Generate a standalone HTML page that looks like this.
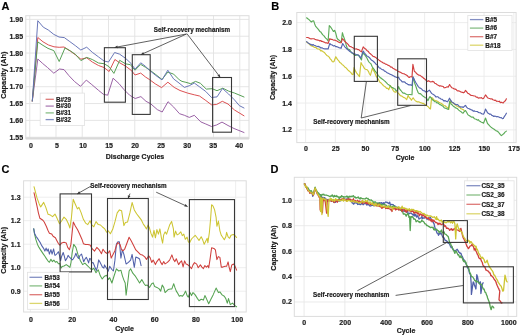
<!DOCTYPE html>
<html><head><meta charset="utf-8"><style>
html,body{margin:0;padding:0;background:#fff;}
body{width:520px;height:335px;overflow:hidden;font-family:"Liberation Sans",sans-serif;}
svg{display:block;will-change:transform;filter:blur(0.3px);}
</style></head><body>
<svg width="520" height="335" viewBox="0 0 520 335"><line x1="25.8" y1="19.40" x2="249" y2="19.40" stroke="#e2e2e2" stroke-width="0.9"/>
<line x1="25.8" y1="36.23" x2="249" y2="36.23" stroke="#e2e2e2" stroke-width="0.9"/>
<line x1="25.8" y1="53.06" x2="249" y2="53.06" stroke="#e2e2e2" stroke-width="0.9"/>
<line x1="25.8" y1="69.89" x2="249" y2="69.89" stroke="#e2e2e2" stroke-width="0.9"/>
<line x1="25.8" y1="86.72" x2="249" y2="86.72" stroke="#e2e2e2" stroke-width="0.9"/>
<line x1="25.8" y1="103.55" x2="249" y2="103.55" stroke="#e2e2e2" stroke-width="0.9"/>
<line x1="25.8" y1="120.38" x2="249" y2="120.38" stroke="#e2e2e2" stroke-width="0.9"/>
<line x1="25.8" y1="137.21" x2="249" y2="137.21" stroke="#e2e2e2" stroke-width="0.9"/>
<line x1="29.75" y1="15.7" x2="29.75" y2="138.6" stroke="#e2e2e2" stroke-width="0.9"/>
<line x1="56.00" y1="15.7" x2="56.00" y2="138.6" stroke="#e2e2e2" stroke-width="0.9"/>
<line x1="82.25" y1="15.7" x2="82.25" y2="138.6" stroke="#e2e2e2" stroke-width="0.9"/>
<line x1="108.50" y1="15.7" x2="108.50" y2="138.6" stroke="#e2e2e2" stroke-width="0.9"/>
<line x1="134.75" y1="15.7" x2="134.75" y2="138.6" stroke="#e2e2e2" stroke-width="0.9"/>
<line x1="161.00" y1="15.7" x2="161.00" y2="138.6" stroke="#e2e2e2" stroke-width="0.9"/>
<line x1="187.25" y1="15.7" x2="187.25" y2="138.6" stroke="#e2e2e2" stroke-width="0.9"/>
<line x1="213.50" y1="15.7" x2="213.50" y2="138.6" stroke="#e2e2e2" stroke-width="0.9"/>
<line x1="239.75" y1="15.7" x2="239.75" y2="138.6" stroke="#e2e2e2" stroke-width="0.9"/>
<rect x="25.8" y="15.7" width="223.20" height="122.90" fill="none" stroke="#dcdcdc" stroke-width="1"/>
<line x1="296.8" y1="22.60" x2="516.1" y2="22.60" stroke="#ebebeb" stroke-width="0.9"/>
<line x1="296.8" y1="49.42" x2="516.1" y2="49.42" stroke="#ebebeb" stroke-width="0.9"/>
<line x1="296.8" y1="76.24" x2="516.1" y2="76.24" stroke="#ebebeb" stroke-width="0.9"/>
<line x1="296.8" y1="103.06" x2="516.1" y2="103.06" stroke="#ebebeb" stroke-width="0.9"/>
<line x1="296.8" y1="129.88" x2="516.1" y2="129.88" stroke="#ebebeb" stroke-width="0.9"/>
<line x1="305.60" y1="12.5" x2="305.60" y2="142.6" stroke="#ebebeb" stroke-width="0.9"/>
<line x1="335.35" y1="12.5" x2="335.35" y2="142.6" stroke="#ebebeb" stroke-width="0.9"/>
<line x1="365.10" y1="12.5" x2="365.10" y2="142.6" stroke="#ebebeb" stroke-width="0.9"/>
<line x1="394.85" y1="12.5" x2="394.85" y2="142.6" stroke="#ebebeb" stroke-width="0.9"/>
<line x1="424.60" y1="12.5" x2="424.60" y2="142.6" stroke="#ebebeb" stroke-width="0.9"/>
<line x1="454.35" y1="12.5" x2="454.35" y2="142.6" stroke="#ebebeb" stroke-width="0.9"/>
<line x1="484.10" y1="12.5" x2="484.10" y2="142.6" stroke="#ebebeb" stroke-width="0.9"/>
<line x1="513.85" y1="12.5" x2="513.85" y2="142.6" stroke="#ebebeb" stroke-width="0.9"/>
<rect x="296.8" y="12.5" width="219.30" height="130.10" fill="none" stroke="#dcdcdc" stroke-width="1"/>
<line x1="23.6" y1="197.20" x2="246.2" y2="197.20" stroke="#ececec" stroke-width="0.9"/>
<line x1="23.6" y1="220.70" x2="246.2" y2="220.70" stroke="#ececec" stroke-width="0.9"/>
<line x1="23.6" y1="244.20" x2="246.2" y2="244.20" stroke="#ececec" stroke-width="0.9"/>
<line x1="23.6" y1="267.70" x2="246.2" y2="267.70" stroke="#ececec" stroke-width="0.9"/>
<line x1="23.6" y1="291.20" x2="246.2" y2="291.20" stroke="#ececec" stroke-width="0.9"/>
<line x1="30.40" y1="180.8" x2="30.40" y2="312.0" stroke="#ececec" stroke-width="0.9"/>
<line x1="71.44" y1="180.8" x2="71.44" y2="312.0" stroke="#ececec" stroke-width="0.9"/>
<line x1="112.48" y1="180.8" x2="112.48" y2="312.0" stroke="#ececec" stroke-width="0.9"/>
<line x1="153.52" y1="180.8" x2="153.52" y2="312.0" stroke="#ececec" stroke-width="0.9"/>
<line x1="194.56" y1="180.8" x2="194.56" y2="312.0" stroke="#ececec" stroke-width="0.9"/>
<line x1="235.60" y1="180.8" x2="235.60" y2="312.0" stroke="#ececec" stroke-width="0.9"/>
<rect x="23.6" y="180.8" width="222.60" height="131.20" fill="none" stroke="#dcdcdc" stroke-width="1"/>
<line x1="294.3" y1="200.30" x2="516.7" y2="200.30" stroke="#e8e8e8" stroke-width="0.9"/>
<line x1="294.3" y1="225.72" x2="516.7" y2="225.72" stroke="#e8e8e8" stroke-width="0.9"/>
<line x1="294.3" y1="251.14" x2="516.7" y2="251.14" stroke="#e8e8e8" stroke-width="0.9"/>
<line x1="294.3" y1="276.56" x2="516.7" y2="276.56" stroke="#e8e8e8" stroke-width="0.9"/>
<line x1="294.3" y1="301.98" x2="516.7" y2="301.98" stroke="#e8e8e8" stroke-width="0.9"/>
<line x1="304.10" y1="177.3" x2="304.10" y2="316.4" stroke="#e8e8e8" stroke-width="0.9"/>
<line x1="344.90" y1="177.3" x2="344.90" y2="316.4" stroke="#e8e8e8" stroke-width="0.9"/>
<line x1="385.70" y1="177.3" x2="385.70" y2="316.4" stroke="#e8e8e8" stroke-width="0.9"/>
<line x1="426.50" y1="177.3" x2="426.50" y2="316.4" stroke="#e8e8e8" stroke-width="0.9"/>
<line x1="467.30" y1="177.3" x2="467.30" y2="316.4" stroke="#e8e8e8" stroke-width="0.9"/>
<line x1="508.10" y1="177.3" x2="508.10" y2="316.4" stroke="#e8e8e8" stroke-width="0.9"/>
<rect x="294.3" y="177.3" width="222.40" height="139.10" fill="none" stroke="#dcdcdc" stroke-width="1"/>
<line x1="25.8" y1="138.3" x2="249" y2="138.3" stroke="#d9d9d9" stroke-width="2.2"/>
<polyline points="32.3,101.0 37.8,59.0 42.7,63.5 47.5,67.5 53.8,73.2 59.5,69.0 64.0,69.6 68.8,75.5 74.5,81.5 80.5,86.3 86.3,80.1 91.8,84.6 98.6,90.4 103.4,94.3 107.7,95.2 113.1,78.2 119.0,83.6 123.8,89.4 129.6,95.2 135.2,98.5 140.9,96.6 146.0,101.3 150.7,103.8 157.3,109.6 162.2,112.0 168.0,101.7 173.7,107.1 179.5,113.7 184.4,115.3 189.3,117.4 194.3,115.3 200.8,121.9 205.8,124.0 211.5,126.5 216.5,125.0 222.0,122.1 228.0,125.5 234.0,128.5 244.0,132.5" fill="none" stroke="#955aa0" stroke-width="0.95" stroke-linejoin="round" stroke-linecap="round"/>
<polyline points="32.3,101.0 37.8,37.5 43.0,41.8 48.5,45.0 54.0,46.8 59.2,47.3 64.0,47.0 70.4,51.2 75.7,55.0 80.9,59.2 86.7,57.8 92.3,62.0 98.5,65.5 104.0,67.5 109.1,71.5 114.9,59.5 119.7,62.8 125.5,66.1 131.4,70.5 135.0,75.0 140.7,73.1 145.5,77.0 149.4,79.5 155.2,83.8 161.6,87.6 167.9,82.2 174.2,87.4 180.0,90.5 187.7,93.1 194.3,94.8 199.5,96.0 205.8,100.5 211.5,104.8 216.5,104.5 222.3,101.3 228.0,104.0 234.5,110.0 244.0,115.8" fill="none" stroke="#d9484a" stroke-width="0.95" stroke-linejoin="round" stroke-linecap="round"/>
<polyline points="32.3,101.0 37.8,41.9 43.0,45.4 48.0,48.4 53.8,50.6 59.2,61.5 65.0,47.9 70.4,50.9 75.7,54.6 80.9,60.6 86.7,57.4 92.3,59.5 98.5,63.0 104.0,63.7 109.1,66.7 113.9,73.4 119.7,60.3 125.5,63.8 130.4,64.7 135.0,70.2 140.7,64.4 145.5,67.3 149.4,69.8 155.2,74.1 162.0,79.5 167.8,72.1 173.6,74.1 179.4,79.9 182.0,81.4 185.9,82.3 190.7,83.7 195.6,81.4 200.4,83.3 206.3,89.1 212.1,88.7 217.0,90.7 222.8,88.2 228.6,91.1 234.4,93.0 244.0,97.0" fill="none" stroke="#4e9a4c" stroke-width="0.95" stroke-linejoin="round" stroke-linecap="round"/>
<polyline points="32.3,101.0 37.8,20.7 43.3,27.2 48.3,30.0 53.8,34.4 59.0,37.0 64.3,37.6 69.8,41.6 75.7,45.9 80.8,50.0 86.7,47.2 92.3,52.3 98.5,56.9 104.0,61.0 108.5,62.0 114.6,52.5 119.7,54.2 125.5,58.3 131.2,63.6 135.0,69.2 140.7,62.8 145.5,66.3 149.4,70.2 155.2,75.0 162.0,79.9 167.8,70.2 173.6,78.9 179.0,83.0 184.4,87.4 189.3,85.7 194.3,83.0 199.2,86.6 205.8,91.5 211.5,97.5 217.0,96.9 222.5,88.5 228.6,94.0 234.4,99.8 239.3,105.6 244.0,108.0" fill="none" stroke="#6270b4" stroke-width="0.95" stroke-linejoin="round" stroke-linecap="round"/>
<rect x="104.4" y="47.7" width="21.00" height="54.50" fill="none" stroke="#383838" stroke-width="1.1"/>
<rect x="132.3" y="54.7" width="17.90" height="59.70" fill="none" stroke="#383838" stroke-width="1.1"/>
<rect x="212.6" y="77.5" width="18.90" height="54.70" fill="none" stroke="#383838" stroke-width="1.1"/>
<line x1="186.5" y1="34.0" x2="114.6" y2="47.5" stroke="#383838" stroke-width="0.8"/>
<polygon points="114.6,47.5 117.29,45.57 117.81,48.32" fill="#383838"/>
<line x1="186.5" y1="34.0" x2="141.0" y2="54.6" stroke="#383838" stroke-width="0.8"/>
<polygon points="141.0,54.6 143.16,52.09 144.31,54.64" fill="#383838"/>
<line x1="187.2" y1="34.0" x2="220.3" y2="77.4" stroke="#383838" stroke-width="0.8"/>
<polygon points="220.3,77.4 217.37,75.86 219.59,74.17" fill="#383838"/>
<text x="153.8" y="31.8" font-size="6.3" text-anchor="start" font-family="Liberation Sans, sans-serif" font-weight="bold" stroke="#1a1a1a" stroke-width="0.18" fill="#1a1a1a">Self-recovery mechanism</text>
<rect x="40.2" y="93.1" width="44.30" height="32.50" fill="#fff" stroke="#e2e2e2" stroke-width="0.8"/>
<line x1="45.6" y1="99.3" x2="53.8" y2="99.3" stroke="#cf3f3c" stroke-width="1.3" opacity="0.7"/>
<text x="56.0" y="101.6" font-size="6.3" text-anchor="start" font-family="Liberation Sans, sans-serif" font-weight="bold" stroke="#1a1a1a" stroke-width="0.18" fill="#1a1a1a">B#29</text>
<line x1="45.6" y1="106.1" x2="53.8" y2="106.1" stroke="#8b4a98" stroke-width="1.3" opacity="0.7"/>
<text x="56.0" y="108.39999999999999" font-size="6.3" text-anchor="start" font-family="Liberation Sans, sans-serif" font-weight="bold" stroke="#1a1a1a" stroke-width="0.18" fill="#1a1a1a">B#30</text>
<line x1="45.6" y1="112.9" x2="53.8" y2="112.9" stroke="#56a352" stroke-width="1.3" opacity="0.7"/>
<text x="56.0" y="115.2" font-size="6.3" text-anchor="start" font-family="Liberation Sans, sans-serif" font-weight="bold" stroke="#1a1a1a" stroke-width="0.18" fill="#1a1a1a">B#31</text>
<line x1="45.6" y1="119.6" x2="53.8" y2="119.6" stroke="#5060aa" stroke-width="1.3" opacity="0.7"/>
<text x="56.0" y="121.89999999999999" font-size="6.3" text-anchor="start" font-family="Liberation Sans, sans-serif" font-weight="bold" stroke="#1a1a1a" stroke-width="0.18" fill="#1a1a1a">B#32</text>
<polyline points="306.6,42.0 307.8,42.8 309.0,43.9 310.2,45.0 311.1,45.9 312.1,46.0 313.0,46.5 314.0,47.1 314.9,47.4 315.9,47.5 316.8,48.5 317.8,48.9 318.7,49.0 319.7,49.4 320.7,51.0 321.6,50.6 322.6,51.3 323.5,52.1 324.5,52.6 325.7,54.1 326.8,55.4 328.0,56.1 329.2,57.1 330.4,59.1 331.3,59.9 332.2,61.5 333.1,61.9 334.0,61.5 334.9,59.0 335.8,56.7 336.7,58.1 337.6,59.7 338.8,60.9 339.9,62.6 341.1,63.3 342.3,64.6 343.5,65.5 344.7,66.9 345.6,67.4 346.5,68.3 347.4,69.4 348.3,70.5 349.5,71.3 350.7,72.4 351.9,74.1 353.1,74.6 354.0,67.5 355.5,71.1 356.7,73.1 357.9,74.6 359.5,76.6 361.0,62.5 362.0,64.6 363.1,66.0 364.1,68.0 365.2,69.2 366.4,69.5 367.5,70.0 368.5,71.6 369.4,73.7 370.4,75.3 372.3,68.3 373.2,70.1 374.2,71.6 375.1,73.5 376.1,76.1 377.2,77.7 378.2,79.1 379.3,81.3 380.3,82.6 381.4,83.3 382.4,84.5 383.5,85.7 384.5,86.4 385.6,87.1 386.6,88.4 387.7,88.2 388.7,89.7 390.3,85.5 391.3,87.1 392.3,88.8 393.3,90.6 394.3,91.8 395.3,92.3 396.7,91.6 398.0,92.8 399.4,94.3 400.3,95.6 401.2,95.9 402.1,96.3 403.4,97.4 404.7,97.8 405.7,98.6 406.7,99.6 408.1,95.5 409.4,97.8 410.4,98.4 411.4,100.3 413.1,97.8 414.3,99.5 415.5,101.0 416.4,101.3 417.3,101.9 418.2,101.8 419.1,101.9 420.0,102.6 421.1,102.7 422.2,103.3 423.2,103.3 424.3,104.0 425.3,104.9 426.4,105.4 427.4,106.2 428.4,106.9 429.4,108.2 430.5,109.0 431.6,97.5 432.6,98.2 433.7,99.7 434.7,100.4 435.8,100.8 436.8,100.9 437.8,101.5 438.9,102.2 439.9,102.8 441.0,103.3 442.1,103.9 443.1,104.8 444.1,105.6 445.1,105.7 446.2,106.7 447.2,107.4 448.8,109.5 450.4,100.2 451.4,102.2 452.4,102.6 453.5,103.1 454.5,104.3 455.6,104.9 456.6,106.0 457.6,106.2 458.7,106.9 459.8,107.4 460.8,108.6 461.8,109.0 462.9,109.5 464.0,110.3" fill="none" stroke="#cfc738" stroke-width="1.15" stroke-linejoin="round" stroke-linecap="round"/>
<polyline points="306.6,17.8 307.8,18.8 309.0,19.6 310.2,20.8 311.4,22.0 312.5,21.0 313.7,20.8 314.6,23.7 315.5,26.1 316.6,27.4 317.7,28.6 318.7,29.8 319.8,31.4 320.9,32.1 321.9,33.6 322.8,34.9 323.8,35.6 324.7,36.8 325.7,38.1 326.9,39.2 328.1,41.0 329.3,25.5 330.5,26.9 331.6,28.5 333.4,31.5 334.6,30.3 335.8,33.3 337.0,38.1 338.1,39.6 339.1,40.2 340.1,41.2 341.2,42.2 342.4,32.7 343.3,35.7 344.2,38.1 345.2,41.2 346.1,44.7 347.1,47.8 348.3,49.2 349.5,49.6 350.7,51.3 351.7,52.9 352.7,53.4 353.7,54.3 354.6,55.1 355.5,55.5 356.7,54.9 357.9,54.9 359.1,56.2 360.3,57.9 361.5,60.0 362.6,52.0 363.7,54.0 364.8,54.8 365.9,56.4 366.8,57.8 367.7,59.7 368.6,61.5 369.5,62.6 370.8,63.6 372.0,66.2 373.1,68.2 374.1,69.4 375.1,71.1 376.2,72.4 377.2,73.7 378.3,75.6 379.3,76.6 380.4,77.9 381.4,78.3 382.4,79.2 383.4,79.9 384.5,80.9 385.6,81.8 386.6,82.9 387.7,84.1 388.7,84.8 389.8,85.5 390.8,86.6 391.8,87.5 392.9,87.6 393.9,88.6 395.0,88.8 396.0,90.8 397.1,90.7 398.6,86.6 399.7,89.2 400.9,90.5 402.2,92.1 403.1,93.1 404.0,93.0 404.9,93.4 405.8,93.9 407.1,94.5 408.4,94.8 409.3,94.5 410.2,94.5 411.1,94.7 412.0,94.8 412.9,76.9 414.7,83.2 415.8,86.1 416.9,89.5 418.0,92.3 419.1,93.7 420.1,93.5 421.1,94.3 422.2,95.4 423.2,96.3 424.3,96.9 425.3,97.7 426.4,98.0 427.9,100.7 428.9,98.4 430.0,96.5 431.6,98.6 432.6,99.8 433.7,100.7 434.7,101.7 435.8,101.7 436.8,102.9 437.8,102.8 438.9,103.8 439.9,104.6 441.0,105.0 442.1,105.7 443.1,106.4 444.1,107.7 445.2,108.1 446.2,108.4 447.3,109.0 448.3,109.5 449.8,101.2 451.4,104.5 452.4,105.1 453.5,106.5 454.5,106.9 455.6,107.9 456.6,108.2 457.6,108.8 458.7,110.1 459.8,110.9 460.9,111.6 462.0,112.7 463.1,113.2 464.3,111.5 465.5,110.5 466.6,112.3 467.8,114.6 468.7,115.3 469.6,115.7 470.5,116.5 471.4,117.1 472.3,117.0 473.2,117.1 474.1,118.4 475.2,119.0 476.2,119.3 477.3,120.1 478.3,119.7 479.4,121.1 480.4,121.6 481.4,122.2 482.5,122.5 483.5,123.2 484.5,120.8 485.5,118.0 486.5,120.8 487.5,123.5 488.6,124.6 489.7,125.9 490.7,126.9 491.8,127.8 492.9,128.4 493.8,129.1 494.7,129.7 495.6,130.4 496.5,130.9 497.4,131.2 498.3,132.0 499.4,133.3 500.4,134.7 501.5,135.6 502.6,134.6 503.7,133.8 505.0,132.1 506.4,131.1" fill="none" stroke="#5cab58" stroke-width="1.15" stroke-linejoin="round" stroke-linecap="round"/>
<polyline points="306.6,41.6 307.8,42.7 309.0,43.5 310.2,44.3 311.1,44.3 312.1,45.4 313.0,44.5 314.0,45.3 314.9,45.5 315.9,46.1 316.8,46.3 317.8,46.6 318.7,46.4 319.7,47.0 320.8,48.0 321.8,47.7 322.8,48.3 323.9,48.8 324.9,48.9 326.0,48.9 327.1,48.8 328.1,49.0 329.8,43.4 330.8,44.6 331.8,44.8 332.8,45.5 333.8,46.1 334.7,45.6 335.7,46.6 336.6,46.6 337.6,47.0 338.8,47.6 339.9,47.9 341.1,48.3 342.7,43.5 343.8,45.3 344.8,46.8 346.1,48.1 347.5,49.5 348.6,50.3 349.6,51.2 350.7,51.9 351.7,52.6 352.7,53.1 353.7,53.7 354.9,54.0 356.1,54.5 357.2,54.9 358.3,55.0 359.5,56.2 360.7,58.0 361.9,55.1 363.2,51.0 364.5,53.1 365.9,54.6 366.8,56.0 367.7,56.3 368.6,56.9 369.5,57.7 370.4,58.8 371.3,59.9 372.2,60.4 373.2,61.2 374.1,62.0 375.2,63.1 376.2,64.5 377.2,64.8 378.3,66.7 379.3,68.0 380.4,68.1 381.4,69.1 382.4,69.8 383.5,69.9 384.5,71.2 385.6,71.3 386.6,72.5 387.7,73.0 388.7,73.6 389.8,74.1 390.8,74.5 391.9,75.0 392.9,75.6 393.8,75.9 394.8,76.7 395.7,76.9 396.7,77.4 397.6,77.7 398.6,77.2 399.8,79.5 401.0,80.4 402.2,81.9 403.1,81.9 404.0,81.9 404.9,82.1 405.8,83.2 407.0,83.8 408.1,84.6 409.3,84.9 410.6,84.9 412.0,85.5 412.9,76.9 413.8,78.3 414.7,80.4 415.6,82.3 417.0,84.5 418.3,86.6 419.3,87.7 420.2,88.1 421.2,88.7 422.2,89.7 423.2,90.6 424.3,90.8 425.3,91.4 426.4,92.5 427.4,91.4 428.3,90.9 429.3,90.2 430.5,91.7 431.6,93.4 432.6,94.1 433.7,94.7 434.7,95.4 435.8,96.8 436.8,96.8 437.8,96.7 438.9,98.0 439.9,98.1 441.0,99.1 442.1,99.3 443.1,100.1 444.0,101.1 444.9,100.6 445.8,101.0 446.7,101.5 447.6,101.8 448.6,99.9 449.5,98.2 450.6,100.2 451.8,101.9 453.1,102.8 454.5,103.8 455.6,104.4 456.6,104.7 457.6,104.6 458.7,105.9 459.8,106.4 460.9,107.2 462.0,106.8 463.1,107.5 464.3,106.3 465.5,105.4 466.6,107.1 467.8,108.3 468.7,108.5 469.6,109.1 470.5,109.3 471.4,110.0 472.3,110.1 473.2,111.1 474.1,110.9 475.2,111.3 476.2,111.5 477.3,111.5 478.3,112.4 479.4,112.7 480.4,112.8 481.4,113.6 482.5,114.0 483.5,114.2 484.5,112.4 485.5,109.0 486.5,110.7 487.5,112.8 488.6,113.4 489.7,114.3 490.7,114.0 491.8,115.4 492.9,115.8 493.8,116.5 494.7,116.1 495.6,116.2 496.5,116.8 497.4,116.6 498.3,116.7 499.3,117.2 500.3,117.7 501.3,117.5 502.3,118.7 503.3,118.5 504.3,116.6 505.4,115.0 506.4,113.2" fill="none" stroke="#5464ae" stroke-width="1.15" stroke-linejoin="round" stroke-linecap="round"/>
<polyline points="306.6,37.5 307.8,37.5 309.0,38.1 310.2,38.7 311.1,38.9 312.1,38.7 313.0,38.7 314.0,38.7 314.9,39.3 315.9,39.8 316.8,39.9 317.8,40.1 318.7,40.3 319.7,41.0 320.7,40.5 321.6,41.5 322.6,41.4 323.5,41.9 324.5,42.2 325.4,42.9 326.3,42.7 327.2,43.0 328.1,43.4 329.8,38.7 330.8,39.3 331.8,39.3 332.8,39.8 333.8,40.2 334.7,40.1 335.7,40.6 336.6,40.7 337.6,41.6 338.8,42.3 340.0,42.7 341.2,42.8 342.4,38.7 343.6,39.9 344.8,41.5 346.0,42.5 347.1,43.4 348.3,44.6 349.5,46.3 350.7,46.6 351.9,47.2 352.8,47.6 353.7,48.3 354.6,48.9 355.5,49.0 356.6,48.9 357.7,49.6 358.8,49.6 360.1,50.9 361.4,51.9 362.3,49.4 363.2,46.9 364.5,48.3 365.9,49.2 366.8,50.5 367.7,51.0 368.6,51.8 369.5,53.1 370.4,53.8 371.3,54.6 372.2,55.4 373.1,56.5 374.0,56.6 374.9,57.1 375.8,57.4 376.7,58.5 377.6,59.0 378.7,59.9 379.8,60.7 380.8,61.4 381.9,62.0 382.9,62.7 383.8,63.1 384.8,63.6 385.8,64.3 386.7,64.4 387.7,65.1 388.7,65.5 389.8,66.1 390.8,67.1 391.9,67.1 392.9,68.3 393.8,68.7 394.8,69.3 395.7,70.0 396.7,70.1 397.6,70.9 398.5,71.4 399.4,71.9 400.4,72.2 401.3,72.9 402.2,73.3 403.1,73.6 404.0,73.7 404.9,74.3 405.8,74.7 407.1,75.5 408.4,76.9 409.3,77.5 410.2,76.8 411.1,76.7 412.0,76.9 412.9,64.3 414.4,71.5 415.4,72.0 416.4,73.3 417.4,74.2 418.3,74.9 419.2,75.3 420.1,75.4 421.0,76.1 421.9,76.9 422.8,77.3 423.7,78.4 424.6,78.8 425.5,79.8 426.4,80.5 427.5,81.4 428.6,80.7 429.7,81.5 430.8,81.9 431.7,81.7 432.6,81.4 433.6,81.7 434.7,83.2 435.7,83.5 436.8,84.4 437.8,85.0 438.7,85.5 439.6,86.1 440.5,85.8 441.5,86.1 442.4,86.3 443.3,86.6 444.2,87.8 445.1,87.6 446.2,87.3 447.2,86.8 448.3,87.1 449.6,84.6 450.5,86.0 451.5,87.4 452.4,88.0 453.3,88.2 454.2,89.0 455.1,89.1 456.0,89.4 456.9,90.4 457.8,90.9 458.8,90.9 459.7,91.2 460.7,91.9 461.7,92.3 462.6,92.4 463.6,92.8 464.6,92.0 465.5,90.4 466.6,91.7 467.8,93.3 468.7,93.6 469.6,94.3 470.5,95.1 471.4,95.5 472.3,95.5 473.2,95.7 474.1,96.0 475.2,96.0 476.2,97.2 477.3,97.1 478.3,98.1 479.4,97.8 480.4,98.0 481.4,97.6 482.5,98.7 483.5,98.5 484.5,96.8 485.5,94.9 486.5,96.1 487.5,97.7 488.6,98.2 489.7,98.5 490.7,99.0 491.8,98.8 492.9,99.7 493.8,100.0 494.7,100.4 495.6,100.2 496.5,101.3 497.4,101.2 498.3,101.5 499.3,101.2 500.3,102.6 501.3,102.2 502.3,102.6 503.3,102.9 504.3,101.5 505.4,100.8 506.4,98.8" fill="none" stroke="#d23f3f" stroke-width="1.15" stroke-linejoin="round" stroke-linecap="round"/>
<rect x="354.3" y="36.3" width="23.10" height="45.10" fill="none" stroke="#383838" stroke-width="1.1"/>
<rect x="397.7" y="58.8" width="28.80" height="46.50" fill="none" stroke="#383838" stroke-width="1.1"/>
<line x1="361.2" y1="118.0" x2="366.4" y2="81.6" stroke="#383838" stroke-width="0.8"/>
<line x1="361.2" y1="118.0" x2="410.8" y2="105.5" stroke="#383838" stroke-width="0.8"/>
<text x="313.3" y="124.3" font-size="6.3" text-anchor="start" font-family="Liberation Sans, sans-serif" font-weight="bold" stroke="#1a1a1a" stroke-width="0.18" fill="#1a1a1a">Self-recovery mechanism</text>
<rect x="467.8" y="15.4" width="44.20" height="35.10" fill="#fff" stroke="#e2e2e2" stroke-width="0.8"/>
<line x1="469.9" y1="19.6" x2="483.3" y2="19.6" stroke="#5060aa" stroke-width="1.3" opacity="0.7"/>
<text x="485.3" y="21.900000000000002" font-size="6.4" text-anchor="start" font-family="Liberation Sans, sans-serif" font-weight="bold" stroke="#1a1a1a" stroke-width="0.18" fill="#1a1a1a">B#5</text>
<line x1="469.9" y1="28.1" x2="483.3" y2="28.1" stroke="#56a352" stroke-width="1.3" opacity="0.7"/>
<text x="485.3" y="30.400000000000002" font-size="6.4" text-anchor="start" font-family="Liberation Sans, sans-serif" font-weight="bold" stroke="#1a1a1a" stroke-width="0.18" fill="#1a1a1a">B#6</text>
<line x1="469.9" y1="36.7" x2="483.3" y2="36.7" stroke="#cf3f3c" stroke-width="1.3" opacity="0.7"/>
<text x="485.3" y="39.0" font-size="6.4" text-anchor="start" font-family="Liberation Sans, sans-serif" font-weight="bold" stroke="#1a1a1a" stroke-width="0.18" fill="#1a1a1a">B#7</text>
<line x1="469.9" y1="45.2" x2="483.3" y2="45.2" stroke="#cdc532" stroke-width="1.3" opacity="0.7"/>
<text x="485.3" y="47.5" font-size="6.4" text-anchor="start" font-family="Liberation Sans, sans-serif" font-weight="bold" stroke="#1a1a1a" stroke-width="0.18" fill="#1a1a1a">B#18</text>
<polyline points="33.7,228.7 34.5,233.9 36.0,239.9 37.5,244.4 39.0,247.4 40.4,249.6 41.9,251.9 43.4,254.1 44.9,256.3 46.4,258.6 47.9,260.8 49.4,262.3 50.9,259.3 52.4,261.6 53.9,260.1 55.4,262.3 56.9,261.5 58.4,263.8 59.9,263.5 61.0,268.1 62.1,266.6 64.0,266.0 66.2,264.6 68.6,266.3 69.9,267.4 71.0,262.5 72.2,252.6 73.7,244.4 75.9,247.4 78.1,254.9 80.4,260.8 82.6,264.6 84.9,263.1 87.1,265.3 89.3,267.5 91.6,269.8 93.8,268.3 96.0,272.8 98.3,269.8 100.3,275.8 102.2,279.0 104.5,276.2 106.7,275.2 108.2,279.6 109.7,277.7 111.9,283.0 114.2,275.5 116.4,268.8 118.7,271.0 120.9,270.2 122.4,275.8 123.9,280.1 125.2,283.0 126.1,295.1 127.6,283.9 129.1,271.0 130.6,268.8 132.8,273.2 135.1,275.8 137.3,279.2 139.6,283.0 141.8,279.6 144.0,283.5 145.5,285.5 147.2,285.1 149.5,287.4 151.7,283.7 153.2,282.9 154.7,286.6 156.9,287.4 159.2,288.9 160.7,291.1 162.2,285.1 163.7,287.4 165.1,292.6 166.6,291.1 168.1,289.6 170.4,288.9 171.9,288.9 173.7,283.7 174.9,287.4 176.3,291.1 177.8,293.4 179.3,296.3 180.8,295.6 182.3,296.3 184.1,294.1 185.6,291.1 187.1,295.6 188.3,297.1 190.0,292.6 191.5,295.6 193.0,292.6 195.2,294.9 197.5,298.6 199.0,300.8 201.2,299.3 203.4,300.1 204.9,295.6 206.4,298.6 208.7,303.8 210.9,299.3 213.1,294.9 216.1,288.1 218.4,292.6 219.9,291.9 222.1,294.9 224.3,296.3 225.8,298.6 227.3,303.1 228.5,298.6 230.3,304.6 232.5,303.1 234.0,304.6 235.5,306.1 236.6,306.8" fill="none" stroke="#56a352" stroke-width="1.05" stroke-linejoin="round" stroke-linecap="round"/>
<polyline points="33.7,228.7 34.5,233.2 36.0,236.2 37.5,238.4 39.0,240.7 40.4,242.9 41.9,245.9 43.4,248.1 44.9,251.1 46.1,248.1 47.2,251.1 48.2,248.9 49.4,254.1 50.9,249.6 52.1,254.1 53.6,248.9 54.6,254.1 55.0,255.4 56.5,254.3 58.4,251.7 59.5,255.4 60.6,260.7 61.7,256.2 63.2,252.5 64.3,256.2 65.4,260.7 66.9,258.4 68.1,255.4 69.2,256.9 70.7,258.4 72.2,259.9 73.3,258.8 74.8,256.2 75.9,253.2 77.0,256.2 78.5,258.4 80.0,255.5 81.5,254.0 82.6,257.7 83.7,261.8 84.9,259.2 86.3,257.3 87.5,259.9 88.6,262.9 89.7,258.4 90.8,259.2 91.9,262.9 93.1,262.6 94.2,265.2 95.3,268.1 96.4,270.4 97.5,266.7 98.7,259.9 99.8,261.8 100.9,264.0 102.4,267.0 103.9,268.1 104.5,264.9 106.7,268.6 108.2,271.2 109.7,266.3 111.9,269.5 113.4,271.0 114.9,260.4 116.4,244.0 117.9,241.7 119.4,241.7 120.9,258.1 122.4,249.9 123.9,254.4 126.1,264.0 128.4,262.4 130.6,260.2 132.1,254.4 134.3,267.3 135.8,257.0 138.1,258.0 139.6,259.0 141.1,265.6" fill="none" stroke="#5060aa" stroke-width="1.05" stroke-linejoin="round" stroke-linecap="round"/>
<polyline points="34.0,192.7 35.5,199.4 37.0,206.1 38.4,212.8 39.9,218.3 42.9,220.3 44.2,222.0 46.4,226.5 47.9,230.2 49.4,233.2 51.6,233.9 53.1,236.2 55.4,237.7 56.9,240.7 58.4,243.6 59.9,245.1 61.7,242.9 64.0,242.2 66.2,242.9 67.7,247.4 69.4,249.8 70.9,244.4 72.2,232.0 73.3,222.0 75.3,226.0 77.6,229.8 79.6,234.0 81.9,239.2 83.4,243.7 85.6,244.4 87.8,244.4 90.1,245.1 92.3,248.9 94.6,251.1 96.8,247.4 99.0,249.6 101.5,253.7 103.0,249.2 105.2,252.2 107.5,253.7 109.7,250.7 111.2,258.1 113.4,253.7 114.9,250.7 116.4,245.4 117.9,242.5 120.1,244.7 121.6,249.9 123.1,250.7 124.6,249.2 126.9,243.2 129.1,237.2 131.3,241.0 133.6,245.4 135.8,249.9 138.1,252.2 140.3,254.4 142.5,255.1 144.8,256.9 146.5,259.4 148.7,255.7 150.2,257.9 151.7,262.4 153.2,260.1 155.4,264.6 156.9,261.6 159.2,258.7 160.7,262.4 162.2,264.6 163.7,261.6 165.1,263.9 167.4,262.4 169.6,260.1 171.9,254.9 173.4,259.4 174.9,261.6 176.3,258.7 178.6,264.6 180.1,262.4 181.6,260.9 183.1,266.9 184.6,260.9 186.0,263.9 187.5,264.6 189.8,266.5 191.5,268.6 193.0,264.9 194.5,262.6 196.7,264.1 198.2,267.8 200.4,264.9 201.9,267.1 203.4,268.6 204.9,265.6 206.4,267.1 207.9,265.6 208.7,267.8 210.1,258.9 211.6,247.7 213.9,248.4 215.4,249.9 216.9,259.6 218.4,256.6 219.9,257.4 221.3,267.1 222.8,267.1 225.1,266.3 226.6,266.3 228.1,261.9 229.1,267.1 230.3,271.6 231.8,264.9 233.6,264.1 234.8,265.6 236.6,270.1" fill="none" stroke="#cf3f3c" stroke-width="1.05" stroke-linejoin="round" stroke-linecap="round"/>
<polyline points="34.0,186.7 35.2,191.2 37.0,197.9 39.2,203.9 40.7,206.9 43.7,202.4 45.9,207.6 48.1,214.3 50.4,215.1 52.6,216.6 55.0,214.1 57.2,218.6 59.5,223.8 61.7,220.8 64.0,217.1 66.2,219.3 68.4,223.8 69.9,228.0 71.4,217.8 73.2,199.2 75.1,203.7 77.4,208.9 78.9,207.4 81.1,212.6 83.4,219.3 85.6,223.1 87.8,224.6 90.1,220.8 91.6,224.6 93.8,226.8 96.0,221.6 98.3,224.6 100.5,225.0 102.5,227.0 104.5,228.6 106.7,232.3 108.2,230.8 110.4,233.8 112.7,229.3 114.9,221.9 117.2,212.9 119.4,209.9 121.6,210.7 123.9,225.6 125.4,222.6 127.6,221.9 129.9,212.9 132.1,202.5 134.3,209.9 136.6,213.7 138.8,216.6 141.1,219.6 143.3,224.1 145.0,226.4 146.5,228.9 148.0,225.1 149.5,228.1 151.0,233.4 152.5,237.1 154.0,230.4 155.4,237.8 156.9,229.6 158.4,234.1 159.9,228.9 161.4,237.8 162.6,243.1 163.7,234.9 165.1,231.9 166.6,234.1 168.1,229.6 169.6,225.1 171.6,221.4 173.4,228.9 174.1,237.1 175.6,231.1 177.1,234.9 178.6,234.1 180.8,231.9 182.3,235.6 183.8,234.1 185.3,239.3 187.1,237.1 188.3,241.6 189.5,243.0 191.5,239.0 193.0,237.5 195.2,235.3 197.5,238.3 199.0,240.5 201.2,236.8 202.7,239.8 204.2,244.3 205.7,241.3 207.2,238.3 207.9,242.8 209.4,232.3 210.6,218.9 211.6,204.7 213.1,206.2 214.6,209.9 216.1,217.4 216.9,226.3 218.4,221.1 219.9,230.8 221.3,235.3 222.8,237.5 224.3,239.8 225.8,236.8 226.6,232.3 228.1,236.8 229.6,238.3 231.0,235.3 233.3,234.6 234.8,235.3 236.6,237.5" fill="none" stroke="#cdc532" stroke-width="1.05" stroke-linejoin="round" stroke-linecap="round"/>
<rect x="60.1" y="193.9" width="31.40" height="78.00" fill="none" stroke="#383838" stroke-width="1.1"/>
<rect x="107.5" y="198.5" width="40.80" height="101.00" fill="none" stroke="#383838" stroke-width="1.1"/>
<rect x="189.4" y="199.6" width="45.10" height="107.00" fill="none" stroke="#383838" stroke-width="1.1"/>
<line x1="91.2" y1="186.0" x2="77.2" y2="193.9" stroke="#383838" stroke-width="0.8"/>
<polygon points="77.2,193.9 79.12,191.21 80.50,193.64" fill="#383838"/>
<line x1="130.0" y1="193.6" x2="128.0" y2="198.5" stroke="#383838" stroke-width="0.8"/>
<polygon points="128.0,198.5 127.84,195.19 130.43,196.25" fill="#383838"/>
<line x1="156.2" y1="192.2" x2="187.6" y2="206.6" stroke="#383838" stroke-width="0.8"/>
<polygon points="187.6,206.6 184.29,206.62 185.46,204.08" fill="#383838"/>
<text x="90.2" y="188.4" font-size="6.3" text-anchor="start" font-family="Liberation Sans, sans-serif" font-weight="bold" stroke="#1a1a1a" stroke-width="0.18" fill="#1a1a1a">Self-recovery mechanism</text>
<rect x="27.4" y="272.3" width="41.10" height="37.00" fill="#fff" stroke="#e2e2e2" stroke-width="0.8"/>
<line x1="29.5" y1="277.3" x2="42.2" y2="277.3" stroke="#5060aa" stroke-width="1.3" opacity="0.7"/>
<text x="44.5" y="279.6" font-size="6.4" text-anchor="start" font-family="Liberation Sans, sans-serif" font-weight="bold" stroke="#1a1a1a" stroke-width="0.18" fill="#1a1a1a">B#53</text>
<line x1="29.5" y1="285.9" x2="42.2" y2="285.9" stroke="#56a352" stroke-width="1.3" opacity="0.7"/>
<text x="44.5" y="288.2" font-size="6.4" text-anchor="start" font-family="Liberation Sans, sans-serif" font-weight="bold" stroke="#1a1a1a" stroke-width="0.18" fill="#1a1a1a">B#54</text>
<line x1="29.5" y1="294.7" x2="42.2" y2="294.7" stroke="#cf3f3c" stroke-width="1.3" opacity="0.7"/>
<text x="44.5" y="297.0" font-size="6.4" text-anchor="start" font-family="Liberation Sans, sans-serif" font-weight="bold" stroke="#1a1a1a" stroke-width="0.18" fill="#1a1a1a">B#55</text>
<line x1="29.5" y1="303.4" x2="42.2" y2="303.4" stroke="#cdc532" stroke-width="1.3" opacity="0.7"/>
<text x="44.5" y="305.7" font-size="6.4" text-anchor="start" font-family="Liberation Sans, sans-serif" font-weight="bold" stroke="#1a1a1a" stroke-width="0.18" fill="#1a1a1a">B#56</text>
<polyline points="304.4,184.0 305.0,184.3 305.6,185.8 306.2,186.7 306.8,188.0 307.4,189.3 308.0,190.4 308.6,189.2 309.2,190.8 309.8,191.3 310.4,192.3 311.0,192.2 311.6,193.3 312.2,193.9 312.8,196.3 313.4,195.0 315.1,188.2 315.9,190.2 316.6,191.8 317.5,193.3 318.3,194.8 319.1,196.3 320.0,196.5 320.6,196.0 321.2,196.6 321.8,197.8 322.4,197.3 323.0,198.0 323.6,197.5 324.2,198.0 324.8,197.6 325.4,199.7 326.0,199.0 326.7,200.2 327.3,201.4 328.0,199.4 328.7,199.6 329.3,199.9 330.0,200.2 330.6,200.8 331.2,200.5 331.9,201.3 332.5,200.6 333.1,199.9 333.8,202.4 334.4,201.0 335.0,201.5 335.6,202.3 336.2,201.1 336.8,201.4 337.4,200.0 338.0,200.4 338.6,201.1 339.3,201.2 340.0,201.1 340.8,200.2 341.5,200.2 342.2,199.9 342.8,198.4 343.4,199.7 344.0,199.1 344.6,198.7 345.2,199.7 345.8,199.3 346.5,199.1 347.2,198.9 347.9,199.4 348.6,199.5 349.3,199.9 350.0,200.3 350.7,201.2 351.5,201.4 352.2,203.0 352.9,202.9 353.5,204.1 354.1,203.7 354.7,202.6 355.3,202.4 355.9,203.2 356.5,202.9 357.1,203.0 357.7,204.5 358.3,203.9 358.9,204.3 359.5,203.8 360.1,204.5 360.8,204.6 361.5,203.7 362.3,203.4 363.0,204.6 363.7,204.5 364.4,202.9 365.0,203.0 365.6,202.9 366.2,204.3 366.9,205.1 367.5,204.3 368.1,204.6 368.7,204.5 369.4,205.6 370.0,206.0 370.7,205.9 371.3,205.7 372.0,205.1 372.7,205.3 373.4,205.7 374.1,205.9 374.7,203.8 375.4,204.1 376.1,204.0 376.8,204.7 377.5,203.6 378.2,204.2 378.9,202.7 379.6,203.0 380.2,202.9 380.9,203.1 381.6,202.6 382.2,203.6 382.9,203.5 383.5,202.7 384.1,203.6 384.8,203.0 385.5,202.0 386.2,202.2 386.9,202.5 387.6,202.4 388.3,203.3 389.0,203.6 389.7,202.1 390.4,205.0 391.1,204.6 391.8,204.4 392.5,204.7 393.2,204.6 393.9,206.1 394.6,205.7 395.3,206.2 395.9,206.9 396.5,207.1 397.2,208.1 397.8,208.4 398.4,208.3 399.0,209.4 399.6,208.7 400.3,208.1 400.9,209.3 401.5,209.3 402.1,209.1 402.8,210.6 403.4,211.2 404.0,211.2 404.6,210.0 405.2,211.5 405.8,211.3 406.4,212.2 407.0,211.5 407.6,211.5 408.2,213.4 408.8,213.9 409.4,213.7 410.0,213.0 410.6,213.2 411.2,213.5 411.8,213.5 412.4,214.4 413.0,215.1 413.6,214.2 414.2,216.0 414.8,213.8 415.4,215.9 416.0,214.8 416.6,217.1 417.2,216.5 417.8,215.6 418.4,217.4 419.1,219.2 419.9,218.2 420.6,218.1 421.3,218.1 421.9,216.2 422.5,218.7 423.1,218.0 423.7,217.9 424.3,218.1 424.9,217.9 425.5,217.0 426.1,217.6 426.7,219.0 427.3,218.9 427.9,219.3 428.5,218.7 429.1,218.2 429.7,217.8 430.3,217.4 431.0,218.7 431.8,221.0 432.5,220.4 433.3,222.6 434.0,223.7 434.8,227.1 435.5,229.4 436.3,230.8 437.0,233.1 437.8,233.3 438.5,235.3 439.2,233.5 440.0,234.1 440.7,232.8 441.5,233.8 442.2,235.7 443.0,237.4 443.8,237.5 444.5,238.9 445.2,240.4 446.0,240.4 446.7,241.0 447.5,242.0 448.2,243.4 448.9,243.2 449.7,244.4 450.4,246.3 451.2,247.8 451.9,247.0 452.7,248.6 453.4,250.0 454.2,250.4 454.9,250.8 455.7,250.5 456.4,249.9 457.2,249.3 457.9,250.3 458.7,252.1 459.4,252.3 460.1,253.4 460.9,253.2 461.6,255.3 462.5,256.9 463.4,259.0 464.0,261.2 464.6,260.2 465.2,262.2 465.8,263.4 466.4,264.5 467.0,265.8 467.6,268.1 468.2,268.1 468.8,270.2 469.6,273.5 470.5,274.7 471.2,283.7 471.4,294.4 473.2,281.9 473.8,282.6 474.4,285.0 475.0,286.4 475.9,289.0 476.8,274.7 477.5,276.6 478.1,280.1 479.1,283.7 479.8,282.9 480.4,281.9 480.9,293.5 482.2,284.6 483.1,282.8" fill="none" stroke="#5060aa" stroke-width="1.3" stroke-linejoin="round" stroke-linecap="round"/>
<polyline points="304.4,184.0 305.0,183.9 305.6,186.0 306.2,187.3 306.8,187.1 307.4,188.3 308.0,187.8 308.6,189.3 309.2,190.3 309.8,191.3 310.4,191.0 311.0,190.6 311.6,191.0 312.2,193.0 312.8,193.3 313.4,193.4 315.1,187.2 315.9,190.0 316.6,190.5 317.5,192.4 318.3,192.8 319.1,193.7 320.0,194.8 320.6,194.6 321.2,196.8 321.8,194.6 322.4,194.3 323.0,194.9 323.7,194.1 324.4,195.1 325.2,195.2 325.9,195.2 326.6,195.1 327.3,195.5 328.0,195.7 328.7,196.0 329.4,196.3 330.0,196.7 330.7,195.9 331.5,196.2 332.2,194.9 333.0,196.4 333.7,197.0 334.3,195.4 335.0,196.5 335.6,196.4 336.2,195.5 336.8,196.7 337.4,196.2 338.0,197.0 338.6,196.9 339.3,199.3 340.0,196.7 340.8,197.4 341.5,195.7 342.2,196.6 342.8,196.4 343.4,197.2 344.0,196.7 344.6,197.1 345.2,196.9 345.8,196.9 346.5,196.1 347.2,197.2 347.9,196.2 348.6,198.1 349.3,196.7 350.0,196.1 350.7,196.9 351.5,196.2 352.2,196.7 352.9,195.8 353.5,195.7 354.1,197.3 354.7,197.0 355.3,197.0 355.9,198.1 356.5,197.8 357.1,197.5 357.7,197.5 358.3,197.0 358.9,198.3 359.5,198.2 360.1,199.1 360.7,197.7 361.3,198.1 361.9,198.6 362.5,198.7 363.1,198.7 363.8,198.8 364.4,198.9 365.0,198.9 365.6,198.4 366.2,197.9 366.9,198.3 367.5,198.9 368.1,198.4 368.7,199.8 369.4,199.7 370.0,200.1 370.7,200.2 371.3,199.9 371.9,200.8 372.5,200.9 373.2,201.7 373.8,202.9 374.4,202.0 375.0,202.0 375.6,201.9 376.3,204.1 376.9,203.0 377.5,203.0 378.1,203.9 378.8,204.1 379.4,202.8 380.1,205.7 380.7,204.1 381.3,205.5 381.9,204.4 382.6,205.0 383.2,204.6 383.8,204.6 384.5,204.1 385.2,204.8 385.9,205.1 386.5,205.6 387.1,206.4 387.8,206.3 388.4,206.0 389.0,206.2 389.6,207.3 390.2,205.8 390.9,207.1 391.5,207.4 392.1,206.7 392.7,206.6 393.4,205.6 394.0,206.3 394.7,207.3 395.3,207.2 395.9,207.8 396.5,208.8 397.2,207.1 397.8,208.1 398.4,208.3 399.1,209.5 399.8,209.6 400.5,210.4 401.2,209.0 401.9,211.7 402.6,211.4 403.3,214.0 404.0,213.9 404.7,214.0 405.4,214.4 406.2,216.1 407.0,214.5 407.8,213.5 408.4,214.7 409.0,217.4 409.6,216.5 410.2,230.5 410.9,216.6 411.6,217.1 412.4,216.6 413.1,217.5 413.9,219.3 414.6,218.9 415.4,219.6 416.1,221.8 416.9,221.1 417.5,220.7 418.1,221.0 418.8,222.0 419.4,221.6 420.0,222.6 420.6,221.9 421.2,221.6 421.8,219.9 422.4,221.2 423.0,221.2 423.6,221.8 424.2,222.4 424.8,223.8 425.4,223.9 426.0,224.1 426.6,225.5 427.2,225.4 427.8,225.6 428.4,226.3 429.1,226.6 429.9,227.1 430.6,227.7 431.3,227.3 431.9,227.2 432.5,227.7 433.1,227.2 433.7,229.7 434.3,228.8 434.9,230.2 435.5,229.3 436.1,229.3 436.7,229.1 437.3,230.3 437.9,230.7 438.5,230.9 439.1,232.7 439.7,231.4 440.3,231.5 440.9,231.1 441.5,230.0 442.1,233.0 442.7,232.3 443.3,232.3 444.1,231.9 444.8,234.0 446.0,234.4 446.8,235.3 447.5,235.9 448.2,236.5 449.0,239.6 449.7,243.7 450.4,242.6 451.1,245.3 451.9,246.3 452.6,248.6 453.4,250.1 454.1,251.6 454.9,253.4 455.6,250.9 456.4,251.6 457.2,253.2 458.0,255.0 458.7,254.7 459.4,256.8 460.1,257.5 460.9,255.8 461.6,257.7 462.3,257.9 463.0,260.4 463.8,261.6 464.5,260.4 465.2,262.2 465.9,262.1 466.5,265.1 467.2,266.1 467.9,266.6 468.8,268.6 469.6,272.0 470.5,273.7 471.4,276.5 472.1,276.7 472.8,277.0 473.4,278.0 474.1,279.2 474.8,280.6 475.5,280.6 476.1,282.1 476.8,281.0 477.5,281.6 478.1,282.2 478.8,282.3 479.5,283.7 480.2,284.3 480.9,284.1 481.5,284.4 482.2,286.4 482.8,287.8 483.4,289.2 484.0,289.0 484.6,290.8 485.2,292.4 485.8,292.6 486.4,294.6 487.0,295.7 487.6,298.0 488.5,300.3 489.4,302.5 490.3,307.0 491.2,309.7 492.1,306.1 493.0,306.7 493.8,307.9" fill="none" stroke="#56a352" stroke-width="1.3" stroke-linejoin="round" stroke-linecap="round"/>
<polyline points="304.4,184.0 305.0,184.0 305.6,186.4 306.2,187.2 306.8,188.1 307.4,189.6 308.0,190.9 308.6,190.8 309.2,191.2 309.8,193.4 310.4,192.6 311.0,192.8 311.6,192.8 312.2,193.2 312.8,194.4 313.4,195.4 315.1,188.5 315.9,190.8 316.6,192.2 317.5,194.4 318.3,195.4 319.1,197.3 319.8,197.5 320.2,210.0 320.9,198.0 322.4,212.8 323.2,199.0 323.8,200.6 324.4,200.6 325.0,199.5 326.6,213.2 327.3,199.8 328.0,200.5 328.6,201.2 329.3,200.8 330.0,200.5 330.7,200.2 331.4,201.4 332.2,200.9 332.9,200.9 333.5,200.8 334.1,202.6 334.8,201.7 335.4,200.8 336.0,201.2 336.6,200.8 337.3,202.2 338.0,199.9 338.6,199.6 339.3,200.0 340.0,199.8 340.8,199.5 341.5,199.4 342.2,198.7 342.8,198.6 343.4,198.8 344.0,199.2 344.6,199.3 345.2,200.4 345.8,199.9 346.5,201.0 347.2,199.0 347.9,200.0 348.6,198.7 349.3,199.3 350.0,199.1 350.7,199.6 351.5,200.1 352.2,200.0 352.9,200.5 353.5,198.7 354.1,201.8 354.7,200.6 355.3,200.5 355.9,201.6 356.5,201.1 357.1,200.8 357.7,200.3 358.3,201.8 358.9,201.9 359.5,201.0 360.1,201.7 360.7,202.5 361.3,202.2 361.9,201.2 362.6,203.5 363.2,202.4 363.8,201.5 364.4,202.8 365.0,202.5 365.6,202.7 366.2,203.5 366.9,201.8 367.5,203.7 368.1,203.0 368.7,203.9 369.4,203.8 370.0,203.9 370.7,204.5 371.3,203.6 371.9,204.4 372.5,204.1 373.2,203.6 373.8,205.3 374.4,204.6 375.0,205.6 375.6,205.3 376.3,205.4 376.9,206.1 377.5,205.7 378.1,204.0 378.8,206.4 379.4,204.4 380.1,206.7 380.7,206.7 381.3,207.6 381.9,208.4 382.6,206.7 383.2,207.5 383.8,207.2 384.4,207.4 385.0,206.0 385.7,208.5 386.3,208.1 386.9,208.3 387.5,208.5 388.2,207.8 388.8,208.6 389.5,208.8 390.1,208.8 390.7,209.8 391.3,209.1 392.0,211.5 392.6,208.5 393.2,208.8 393.8,208.6 394.4,208.8 395.1,208.2 395.7,210.0 396.3,208.8 396.9,209.4 397.5,208.1 398.2,209.2 398.8,210.1 399.4,209.3 400.1,208.4 400.7,209.6 401.4,209.5 402.1,211.5 402.7,210.2 403.4,209.9 404.0,209.7 404.7,209.7 405.3,211.7 406.0,210.0 406.6,212.2 407.3,209.4 407.9,210.7 408.5,210.7 409.2,210.8 409.8,210.5 410.5,211.0 411.1,211.8 411.8,210.8 412.4,211.4 413.0,210.6 413.7,212.9 414.3,213.2 415.0,211.8 415.6,212.7 416.3,210.8 416.9,212.9 417.5,214.0 418.1,212.5 418.7,213.4 419.3,215.8 419.9,214.4 420.6,213.9 421.4,215.2 422.1,214.7 422.8,215.9 423.4,214.8 424.1,215.7 424.7,217.1 425.4,216.2 426.0,217.1 426.7,218.4 427.3,218.1 427.9,218.3 428.5,217.7 429.1,220.2 429.7,219.4 430.3,219.6 430.9,221.0 431.5,219.4 432.1,221.8 432.7,219.8 433.3,221.1 433.9,220.1 434.5,221.4 435.1,221.8 435.7,222.5 436.3,222.6 436.9,222.5 437.5,223.7 438.1,224.5 438.7,223.3 439.3,224.1 439.9,223.1 440.5,223.8 441.1,224.7 441.8,224.7 442.4,223.8 443.0,224.0 443.6,223.9 444.2,225.2 444.8,226.5 445.4,225.8 446.0,226.9 446.6,228.4 447.2,228.0 447.8,228.5 448.4,228.3 449.0,229.2 449.7,230.4 450.4,229.6 451.2,228.6 451.9,229.9 452.5,230.3 453.1,229.0 453.7,229.9 454.3,228.9 454.9,228.4 455.7,228.5 456.4,229.6 457.2,229.9 457.9,230.1 458.7,230.3 459.4,231.4 460.1,229.9 460.9,228.4 462.4,235.1 463.1,237.7 463.9,238.9 464.6,240.5 465.4,241.9 466.1,244.1 466.9,246.3 467.6,247.1 468.4,248.6 469.1,247.9 469.9,246.3 470.6,245.8 471.4,245.6 472.1,244.1 472.9,245.9 473.6,247.1 474.3,250.0 475.1,248.4 475.8,250.8 476.6,252.3 477.3,254.2 478.1,255.3 478.8,257.7 479.5,258.6 480.2,258.4 480.9,259.5 481.5,261.3 482.2,262.2 482.8,264.5 483.4,266.0 484.0,266.6 484.7,266.4 485.4,268.5 486.0,270.2 486.7,270.2 487.4,270.9 488.0,270.8 488.7,271.7 489.4,272.9 490.1,272.8 490.8,275.6 491.4,275.4 492.1,276.5 492.8,277.1 493.4,277.7 494.1,279.1 494.7,280.1 495.3,280.6 495.9,281.8 496.5,283.7 497.2,285.5 498.0,287.3 498.6,288.3 499.2,290.0 499.8,290.8 499.0,299.8 499.8,300.7 500.5,301.3 501.2,303.0 502.0,302.8" fill="none" stroke="#cf3f3c" stroke-width="1.3" stroke-linejoin="round" stroke-linecap="round"/>
<polyline points="304.4,184.0 305.0,184.9 305.6,187.1 306.2,186.4 306.8,186.7 307.4,189.0 308.0,189.8 308.6,190.7 309.2,191.2 309.8,191.9 310.4,192.1 311.0,192.6 311.6,192.8 312.2,193.2 312.8,194.2 313.4,194.8 315.1,188.0 315.9,189.6 316.6,191.6 317.5,194.0 318.3,194.8 319.1,196.4 320.0,197.0 320.6,211.5 321.3,198.0 321.9,214.5 322.6,198.6 323.3,197.9 324.0,199.0 324.7,199.7 325.3,199.2 326.0,199.2 326.7,205.8 327.5,211.8 328.2,216.3 329.0,199.5 329.6,200.1 330.2,198.4 330.8,200.3 331.4,198.6 332.0,199.8 332.6,201.1 333.2,199.4 333.8,199.8 334.4,201.3 335.0,199.9 335.6,198.7 336.2,200.2 336.8,199.5 337.4,200.0 338.0,199.9 338.6,200.5 339.3,201.0 340.0,200.1 340.8,200.5 341.5,200.6 342.2,199.9 342.8,198.8 343.4,201.2 344.0,200.1 344.6,199.1 345.2,200.0 345.8,200.5 346.5,201.2 347.2,201.3 347.9,200.1 348.6,200.7 349.3,200.5 350.0,200.9 350.7,201.6 351.5,200.8 352.2,201.8 352.9,201.1 353.5,200.6 354.1,200.8 354.7,202.0 355.3,202.1 355.9,201.7 356.5,201.7 357.1,202.3 357.7,202.1 358.3,202.7 358.9,203.1 359.5,202.7 360.1,202.3 360.7,202.9 361.3,201.9 361.9,201.7 362.6,200.2 363.2,202.2 363.8,201.8 364.4,202.1 365.0,201.5 365.6,200.3 366.2,201.4 366.9,201.5 367.5,200.6 368.1,202.0 368.7,203.0 369.4,203.4 370.0,201.7 370.7,203.2 371.3,203.0 371.9,204.6 372.5,202.6 373.2,204.5 373.8,205.2 374.4,204.1 375.0,205.8 375.6,203.5 376.3,204.0 376.9,205.1 377.5,205.1 378.1,206.2 378.8,204.5 379.4,205.0 380.1,204.8 380.7,205.7 381.3,206.7 381.9,205.6 382.6,206.5 383.2,206.7 383.8,206.2 384.4,207.3 385.0,206.8 385.7,206.8 386.3,207.6 386.9,206.7 387.5,207.3 388.2,206.0 388.8,206.7 389.5,207.9 390.1,207.2 390.7,207.4 391.3,207.0 392.0,207.5 392.6,209.8 393.2,207.2 393.8,207.2 394.4,207.7 395.1,207.6 395.7,207.1 396.3,207.2 396.9,208.3 397.5,208.1 398.2,207.9 398.8,206.6 399.4,207.7 400.1,208.9 400.7,208.6 401.4,208.1 402.1,206.2 402.7,208.3 403.4,208.4 404.0,207.7 404.7,208.5 405.3,208.4 406.0,208.3 406.6,209.8 407.3,209.3 407.9,209.2 408.5,210.3 409.2,208.7 409.8,209.4 410.5,210.7 411.1,210.0 411.8,209.3 412.4,209.9 413.0,209.4 413.7,209.8 414.3,210.3 415.0,211.0 415.6,210.7 416.3,211.3 416.9,210.7 417.5,211.6 418.1,211.2 418.7,212.2 419.3,211.9 419.9,211.4 420.6,211.9 421.4,212.5 422.1,213.2 422.8,213.7 423.4,213.5 424.0,213.3 424.6,214.7 425.2,214.5 425.8,215.1 426.4,215.8 427.0,215.0 427.6,215.7 428.2,216.0 428.8,215.9 429.4,215.8 430.0,216.4 430.6,215.8 431.2,216.2 431.8,216.6 432.4,217.5 433.0,217.3 433.6,217.2 434.2,216.7 434.8,217.4 435.4,218.3 436.0,219.6 436.6,216.7 437.2,219.5 437.8,218.9 438.5,219.5 439.2,220.6 440.0,221.0 440.7,220.4 441.5,220.1 442.2,222.7 443.0,221.7 443.6,221.5 444.2,221.9 444.8,222.7 445.4,222.4 446.0,222.5 446.6,222.6 447.2,221.9 447.8,221.3 448.4,222.0 449.0,221.7 449.7,220.9 450.4,222.8 451.2,222.0 451.9,221.7 452.5,223.3 453.1,221.7 453.7,221.6 454.3,221.9 454.9,224.0 455.7,238.9 456.4,227.0 457.2,224.0 457.9,226.4 458.7,229.2 459.4,229.0 460.2,231.0 460.9,231.4 461.6,231.9 462.4,233.4 463.1,235.9 463.9,237.4 464.6,238.1 465.4,239.6 466.0,240.5 466.6,240.9 467.2,240.9 467.8,239.9 468.4,241.1 469.1,240.7 469.9,243.3 470.6,241.6 471.3,241.9 471.9,242.9 472.5,243.6 473.1,244.2 473.7,244.8 474.3,245.6 474.9,246.0 475.5,246.8 476.1,246.3 476.7,249.9 477.3,249.3 478.1,251.6 478.9,254.0 479.6,254.1 480.4,256.6 481.1,257.2 481.9,258.3 482.6,257.2 483.4,258.7 484.1,259.6 484.9,262.5 485.6,262.5 486.4,261.8 487.1,260.2 487.9,262.9 488.6,264.7 489.4,267.0 490.1,267.7 490.9,268.8 491.6,269.9 492.4,270.9 493.1,272.2 493.9,275.0 494.6,275.1 495.3,276.5 496.0,278.1 496.8,279.3 497.5,280.4 498.2,282.5 499.0,283.4 499.8,284.6 500.5,285.6 501.2,286.2 502.0,288.6 502.8,291.2 503.5,290.8 505.0,275.1 505.8,278.1 506.5,281.1 507.2,281.9" fill="none" stroke="#cdc532" stroke-width="1.3" stroke-linejoin="round" stroke-linecap="round"/>
<rect x="443.3" y="220.6" width="24.10" height="21.80" fill="none" stroke="#383838" stroke-width="1.1"/>
<rect x="463.4" y="266.8" width="50.00" height="36.10" fill="none" stroke="#383838" stroke-width="1.1"/>
<line x1="357.3" y1="290.8" x2="447.2" y2="242.3" stroke="#383838" stroke-width="0.8"/>
<line x1="395.6" y1="295.4" x2="463.2" y2="285.5" stroke="#383838" stroke-width="0.8"/>
<text x="313.1" y="296.9" font-size="6.3" text-anchor="start" font-family="Liberation Sans, sans-serif" font-weight="bold" stroke="#1a1a1a" stroke-width="0.18" fill="#1a1a1a">Self-recovery mechanism</text>
<rect x="464.5" y="180.8" width="49.60" height="38.90" fill="#fff" stroke="#e2e2e2" stroke-width="0.8"/>
<line x1="466.4" y1="185.7" x2="480.4" y2="185.7" stroke="#5060aa" stroke-width="1.3" opacity="0.7"/>
<text x="481.4" y="188.0" font-size="6.4" text-anchor="start" font-family="Liberation Sans, sans-serif" font-weight="bold" stroke="#1a1a1a" stroke-width="0.18" fill="#1a1a1a">CS2_35</text>
<line x1="466.4" y1="195.0" x2="480.4" y2="195.0" stroke="#56a352" stroke-width="1.3" opacity="0.7"/>
<text x="481.4" y="197.3" font-size="6.4" text-anchor="start" font-family="Liberation Sans, sans-serif" font-weight="bold" stroke="#1a1a1a" stroke-width="0.18" fill="#1a1a1a">CS2_36</text>
<line x1="466.4" y1="204.3" x2="480.4" y2="204.3" stroke="#cf3f3c" stroke-width="1.3" opacity="0.7"/>
<text x="481.4" y="206.60000000000002" font-size="6.4" text-anchor="start" font-family="Liberation Sans, sans-serif" font-weight="bold" stroke="#1a1a1a" stroke-width="0.18" fill="#1a1a1a">CS2_37</text>
<line x1="466.4" y1="213.8" x2="480.4" y2="213.8" stroke="#cdc532" stroke-width="1.3" opacity="0.7"/>
<text x="481.4" y="216.10000000000002" font-size="6.4" text-anchor="start" font-family="Liberation Sans, sans-serif" font-weight="bold" stroke="#1a1a1a" stroke-width="0.18" fill="#1a1a1a">CS2_38</text>
<text x="23.1" y="21.90" font-size="7" text-anchor="end" font-family="Liberation Sans, sans-serif" font-weight="bold" stroke="#1a1a1a" stroke-width="0.18" fill="#1a1a1a">1.90</text>
<text x="23.1" y="38.73" font-size="7" text-anchor="end" font-family="Liberation Sans, sans-serif" font-weight="bold" stroke="#1a1a1a" stroke-width="0.18" fill="#1a1a1a">1.85</text>
<text x="23.1" y="55.56" font-size="7" text-anchor="end" font-family="Liberation Sans, sans-serif" font-weight="bold" stroke="#1a1a1a" stroke-width="0.18" fill="#1a1a1a">1.80</text>
<text x="23.1" y="72.39" font-size="7" text-anchor="end" font-family="Liberation Sans, sans-serif" font-weight="bold" stroke="#1a1a1a" stroke-width="0.18" fill="#1a1a1a">1.75</text>
<text x="23.1" y="89.22" font-size="7" text-anchor="end" font-family="Liberation Sans, sans-serif" font-weight="bold" stroke="#1a1a1a" stroke-width="0.18" fill="#1a1a1a">1.70</text>
<text x="23.1" y="106.05" font-size="7" text-anchor="end" font-family="Liberation Sans, sans-serif" font-weight="bold" stroke="#1a1a1a" stroke-width="0.18" fill="#1a1a1a">1.65</text>
<text x="23.1" y="122.88" font-size="7" text-anchor="end" font-family="Liberation Sans, sans-serif" font-weight="bold" stroke="#1a1a1a" stroke-width="0.18" fill="#1a1a1a">1.60</text>
<text x="23.1" y="139.71" font-size="7" text-anchor="end" font-family="Liberation Sans, sans-serif" font-weight="bold" stroke="#1a1a1a" stroke-width="0.18" fill="#1a1a1a">1.55</text>
<text x="31.00" y="148.3" font-size="7" text-anchor="middle" font-family="Liberation Sans, sans-serif" font-weight="bold" stroke="#1a1a1a" stroke-width="0.18" fill="#1a1a1a">0</text>
<text x="57.02" y="148.3" font-size="7" text-anchor="middle" font-family="Liberation Sans, sans-serif" font-weight="bold" stroke="#1a1a1a" stroke-width="0.18" fill="#1a1a1a">5</text>
<text x="83.05" y="148.3" font-size="7" text-anchor="middle" font-family="Liberation Sans, sans-serif" font-weight="bold" stroke="#1a1a1a" stroke-width="0.18" fill="#1a1a1a">10</text>
<text x="109.08" y="148.3" font-size="7" text-anchor="middle" font-family="Liberation Sans, sans-serif" font-weight="bold" stroke="#1a1a1a" stroke-width="0.18" fill="#1a1a1a">15</text>
<text x="135.10" y="148.3" font-size="7" text-anchor="middle" font-family="Liberation Sans, sans-serif" font-weight="bold" stroke="#1a1a1a" stroke-width="0.18" fill="#1a1a1a">20</text>
<text x="161.12" y="148.3" font-size="7" text-anchor="middle" font-family="Liberation Sans, sans-serif" font-weight="bold" stroke="#1a1a1a" stroke-width="0.18" fill="#1a1a1a">25</text>
<text x="187.15" y="148.3" font-size="7" text-anchor="middle" font-family="Liberation Sans, sans-serif" font-weight="bold" stroke="#1a1a1a" stroke-width="0.18" fill="#1a1a1a">30</text>
<text x="213.18" y="148.3" font-size="7" text-anchor="middle" font-family="Liberation Sans, sans-serif" font-weight="bold" stroke="#1a1a1a" stroke-width="0.18" fill="#1a1a1a">35</text>
<text x="239.20" y="148.3" font-size="7" text-anchor="middle" font-family="Liberation Sans, sans-serif" font-weight="bold" stroke="#1a1a1a" stroke-width="0.18" fill="#1a1a1a">40</text>
<text x="135" y="159" font-size="7" text-anchor="middle" font-family="Liberation Sans, sans-serif" font-weight="bold" stroke="#1a1a1a" stroke-width="0.18" fill="#1a1a1a">Discharge Cycles</text>
<text x="0" y="0" transform="translate(6.0,75.2) rotate(-90)" font-size="7.3" text-anchor="middle" font-family="Liberation Sans, sans-serif" font-weight="bold" stroke="#1a1a1a" stroke-width="0.18" fill="#1a1a1a">Capacity (Ah)</text>
<text x="1.6" y="10.1" font-size="11" font-family="Liberation Sans, sans-serif" font-weight="bold" stroke="#1a1a1a" stroke-width="0.18" fill="#000">A</text>
<text x="291.9" y="25.10" font-size="7" text-anchor="end" font-family="Liberation Sans, sans-serif" font-weight="bold" stroke="#1a1a1a" stroke-width="0.18" fill="#1a1a1a">2.0</text>
<text x="291.9" y="51.92" font-size="7" text-anchor="end" font-family="Liberation Sans, sans-serif" font-weight="bold" stroke="#1a1a1a" stroke-width="0.18" fill="#1a1a1a">1.8</text>
<text x="291.9" y="78.74" font-size="7" text-anchor="end" font-family="Liberation Sans, sans-serif" font-weight="bold" stroke="#1a1a1a" stroke-width="0.18" fill="#1a1a1a">1.6</text>
<text x="291.9" y="105.56" font-size="7" text-anchor="end" font-family="Liberation Sans, sans-serif" font-weight="bold" stroke="#1a1a1a" stroke-width="0.18" fill="#1a1a1a">1.4</text>
<text x="291.9" y="132.38" font-size="7" text-anchor="end" font-family="Liberation Sans, sans-serif" font-weight="bold" stroke="#1a1a1a" stroke-width="0.18" fill="#1a1a1a">1.2</text>
<text x="306.00" y="150.9" font-size="7" text-anchor="middle" font-family="Liberation Sans, sans-serif" font-weight="bold" stroke="#1a1a1a" stroke-width="0.18" fill="#1a1a1a">0</text>
<text x="335.71" y="150.9" font-size="7" text-anchor="middle" font-family="Liberation Sans, sans-serif" font-weight="bold" stroke="#1a1a1a" stroke-width="0.18" fill="#1a1a1a">25</text>
<text x="365.43" y="150.9" font-size="7" text-anchor="middle" font-family="Liberation Sans, sans-serif" font-weight="bold" stroke="#1a1a1a" stroke-width="0.18" fill="#1a1a1a">50</text>
<text x="395.14" y="150.9" font-size="7" text-anchor="middle" font-family="Liberation Sans, sans-serif" font-weight="bold" stroke="#1a1a1a" stroke-width="0.18" fill="#1a1a1a">75</text>
<text x="424.85" y="150.9" font-size="7" text-anchor="middle" font-family="Liberation Sans, sans-serif" font-weight="bold" stroke="#1a1a1a" stroke-width="0.18" fill="#1a1a1a">100</text>
<text x="454.56" y="150.9" font-size="7" text-anchor="middle" font-family="Liberation Sans, sans-serif" font-weight="bold" stroke="#1a1a1a" stroke-width="0.18" fill="#1a1a1a">125</text>
<text x="484.27" y="150.9" font-size="7" text-anchor="middle" font-family="Liberation Sans, sans-serif" font-weight="bold" stroke="#1a1a1a" stroke-width="0.18" fill="#1a1a1a">150</text>
<text x="513.99" y="150.9" font-size="7" text-anchor="middle" font-family="Liberation Sans, sans-serif" font-weight="bold" stroke="#1a1a1a" stroke-width="0.18" fill="#1a1a1a">175</text>
<text x="405" y="159.6" font-size="7" text-anchor="middle" font-family="Liberation Sans, sans-serif" font-weight="bold" stroke="#1a1a1a" stroke-width="0.18" fill="#1a1a1a">Cycle</text>
<text x="0" y="0" transform="translate(275.0,77.5) rotate(-90)" font-size="7.0" text-anchor="middle" font-family="Liberation Sans, sans-serif" font-weight="bold" stroke="#1a1a1a" stroke-width="0.18" fill="#1a1a1a">Capacity (Ah)</text>
<text x="271.2" y="9.9" font-size="11" font-family="Liberation Sans, sans-serif" font-weight="bold" stroke="#1a1a1a" stroke-width="0.18" fill="#000">B</text>
<text x="20.6" y="199.70" font-size="7" text-anchor="end" font-family="Liberation Sans, sans-serif" font-weight="bold" stroke="#1a1a1a" stroke-width="0.18" fill="#1a1a1a">1.3</text>
<text x="20.6" y="223.20" font-size="7" text-anchor="end" font-family="Liberation Sans, sans-serif" font-weight="bold" stroke="#1a1a1a" stroke-width="0.18" fill="#1a1a1a">1.2</text>
<text x="20.6" y="246.70" font-size="7" text-anchor="end" font-family="Liberation Sans, sans-serif" font-weight="bold" stroke="#1a1a1a" stroke-width="0.18" fill="#1a1a1a">1.1</text>
<text x="20.6" y="270.20" font-size="7" text-anchor="end" font-family="Liberation Sans, sans-serif" font-weight="bold" stroke="#1a1a1a" stroke-width="0.18" fill="#1a1a1a">1.0</text>
<text x="20.6" y="293.70" font-size="7" text-anchor="end" font-family="Liberation Sans, sans-serif" font-weight="bold" stroke="#1a1a1a" stroke-width="0.18" fill="#1a1a1a">0.9</text>
<text x="31.00" y="321.9" font-size="7" text-anchor="middle" font-family="Liberation Sans, sans-serif" font-weight="bold" stroke="#1a1a1a" stroke-width="0.18" fill="#1a1a1a">0</text>
<text x="72.24" y="321.9" font-size="7" text-anchor="middle" font-family="Liberation Sans, sans-serif" font-weight="bold" stroke="#1a1a1a" stroke-width="0.18" fill="#1a1a1a">20</text>
<text x="113.48" y="321.9" font-size="7" text-anchor="middle" font-family="Liberation Sans, sans-serif" font-weight="bold" stroke="#1a1a1a" stroke-width="0.18" fill="#1a1a1a">40</text>
<text x="154.72" y="321.9" font-size="7" text-anchor="middle" font-family="Liberation Sans, sans-serif" font-weight="bold" stroke="#1a1a1a" stroke-width="0.18" fill="#1a1a1a">60</text>
<text x="195.96" y="321.9" font-size="7" text-anchor="middle" font-family="Liberation Sans, sans-serif" font-weight="bold" stroke="#1a1a1a" stroke-width="0.18" fill="#1a1a1a">80</text>
<text x="237.20" y="321.9" font-size="7" text-anchor="middle" font-family="Liberation Sans, sans-serif" font-weight="bold" stroke="#1a1a1a" stroke-width="0.18" fill="#1a1a1a">100</text>
<text x="124.6" y="330.8" font-size="7" text-anchor="middle" font-family="Liberation Sans, sans-serif" font-weight="bold" stroke="#1a1a1a" stroke-width="0.18" fill="#1a1a1a">Cycle</text>
<text x="0" y="0" transform="translate(5.6,250.3) rotate(-90)" font-size="7.3" text-anchor="middle" font-family="Liberation Sans, sans-serif" font-weight="bold" stroke="#1a1a1a" stroke-width="0.18" fill="#1a1a1a">Capacity (Ah)</text>
<text x="1.4" y="172.9" font-size="11" font-family="Liberation Sans, sans-serif" font-weight="bold" stroke="#1a1a1a" stroke-width="0.18" fill="#000">C</text>
<text x="291.8" y="202.80" font-size="7" text-anchor="end" font-family="Liberation Sans, sans-serif" font-weight="bold" stroke="#1a1a1a" stroke-width="0.18" fill="#1a1a1a">1.0</text>
<text x="291.8" y="228.22" font-size="7" text-anchor="end" font-family="Liberation Sans, sans-serif" font-weight="bold" stroke="#1a1a1a" stroke-width="0.18" fill="#1a1a1a">0.8</text>
<text x="291.8" y="253.64" font-size="7" text-anchor="end" font-family="Liberation Sans, sans-serif" font-weight="bold" stroke="#1a1a1a" stroke-width="0.18" fill="#1a1a1a">0.6</text>
<text x="291.8" y="279.06" font-size="7" text-anchor="end" font-family="Liberation Sans, sans-serif" font-weight="bold" stroke="#1a1a1a" stroke-width="0.18" fill="#1a1a1a">0.4</text>
<text x="291.8" y="304.48" font-size="7" text-anchor="end" font-family="Liberation Sans, sans-serif" font-weight="bold" stroke="#1a1a1a" stroke-width="0.18" fill="#1a1a1a">0.2</text>
<text x="304.30" y="325.0" font-size="7" text-anchor="middle" font-family="Liberation Sans, sans-serif" font-weight="bold" stroke="#1a1a1a" stroke-width="0.18" fill="#1a1a1a">0</text>
<text x="345.20" y="325.0" font-size="7" text-anchor="middle" font-family="Liberation Sans, sans-serif" font-weight="bold" stroke="#1a1a1a" stroke-width="0.18" fill="#1a1a1a">200</text>
<text x="386.10" y="325.0" font-size="7" text-anchor="middle" font-family="Liberation Sans, sans-serif" font-weight="bold" stroke="#1a1a1a" stroke-width="0.18" fill="#1a1a1a">400</text>
<text x="427.00" y="325.0" font-size="7" text-anchor="middle" font-family="Liberation Sans, sans-serif" font-weight="bold" stroke="#1a1a1a" stroke-width="0.18" fill="#1a1a1a">600</text>
<text x="467.90" y="325.0" font-size="7" text-anchor="middle" font-family="Liberation Sans, sans-serif" font-weight="bold" stroke="#1a1a1a" stroke-width="0.18" fill="#1a1a1a">800</text>
<text x="508.80" y="325.0" font-size="7" text-anchor="middle" font-family="Liberation Sans, sans-serif" font-weight="bold" stroke="#1a1a1a" stroke-width="0.18" fill="#1a1a1a">1000</text>
<text x="406" y="333.2" font-size="7" text-anchor="middle" font-family="Liberation Sans, sans-serif" font-weight="bold" stroke="#1a1a1a" stroke-width="0.18" fill="#1a1a1a">Cycle</text>
<text x="0" y="0" transform="translate(275.8,248) rotate(-90)" font-size="7.05" text-anchor="middle" font-family="Liberation Sans, sans-serif" font-weight="bold" stroke="#1a1a1a" stroke-width="0.18" fill="#1a1a1a">Capacity (Ah)</text>
<text x="270.6" y="173.2" font-size="11" font-family="Liberation Sans, sans-serif" font-weight="bold" stroke="#1a1a1a" stroke-width="0.18" fill="#000">D</text></svg>
</body></html>
